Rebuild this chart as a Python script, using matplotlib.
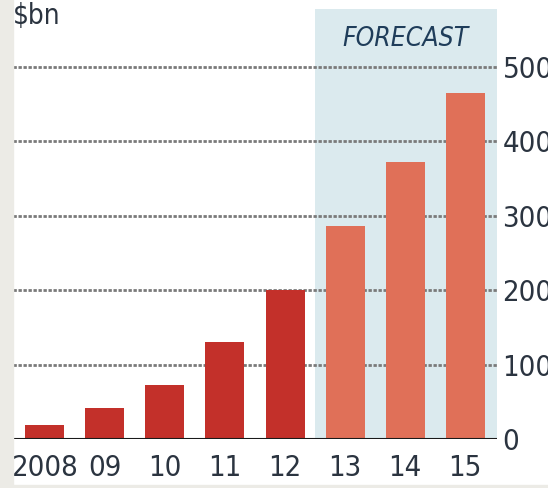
import matplotlib.pyplot as plt
import matplotlib.patches as mpatches

years = ["2008", "09", "10", "11", "12", "13", "14", "15"]
values = [19, 42, 73, 130, 200, 286, 372, 465]
forecast = [False, False, False, False, False, True, True, True]
yticks = [0, 100, 200, 300, 400, 500]

font = dict(family="DejaVu Sans", stretch="condensed")
txt = "#2b3440"

fig = plt.figure(figsize=(5.48, 4.88), dpi=100)
fig.patches.append(mpatches.Rectangle((0, 0), 13 / 548, 1, transform=fig.transFigure,
                                      color="#ecebe6", zorder=0))
fig.patches.append(mpatches.Rectangle((0, 0), 1, 3 / 488, transform=fig.transFigure,
                                      color="#ecebe6", zorder=0))

ax = fig.add_axes([13 / 548, 49 / 488, 484 / 548, 430 / 488])
x = list(range(len(years)))
ax.set_xlim(-0.533, 7.533)
ax.set_ylim(0, 578)

# forecast shading
ax.axvspan(4.5, 7.533, color="#dbeaee", zorder=0, lw=0)

for y in yticks[1:]:
    ax.axhline(y, color="#7a7a7a", lw=2, ls=(0, (1.2, 0.6)), zorder=1)

colors = ["#e07058" if f else "#c3302a" for f in forecast]
ax.bar(x, values, width=0.65, color=colors, zorder=2)
ax.axhline(0, color="#1a1a1a", lw=1.5, zorder=3)

ax.text(6.0, 538, "FORECAST", ha="center", va="center", fontsize=19,
        style="italic", color="#1f3d5a", **font)
fig.text(13 / 548, 1 - 2 / 488, "$bn", ha="left", va="top", fontsize=20,
         color=txt, **font)

ax.set_xticks(x)
ax.set_xticklabels(years, fontsize=21, color=txt, **font)
ax.set_yticks(yticks)
ax.set_yticklabels([str(v) for v in yticks], fontsize=21, color=txt, **font)
ax.yaxis.tick_right()
ax.tick_params(axis="both", length=0)
ax.tick_params(axis="x", pad=11)
ax.tick_params(axis="y", pad=4)
for s in ax.spines.values():
    s.set_visible(False)

plt.savefig("out.png", dpi=100)
plt.close(fig)
